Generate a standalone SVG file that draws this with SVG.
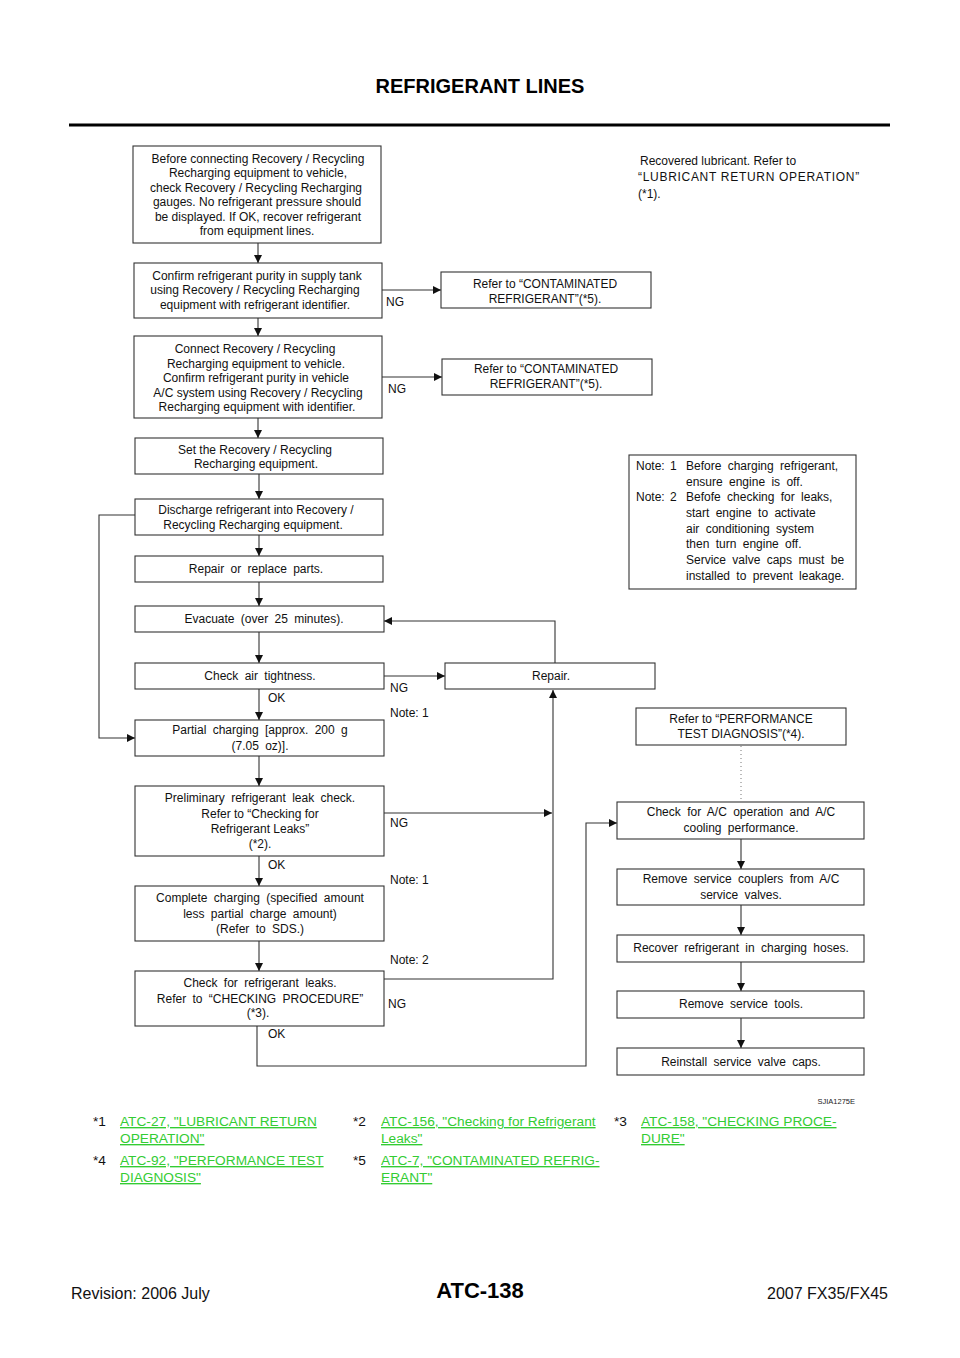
<svg xmlns="http://www.w3.org/2000/svg" width="960" height="1358" viewBox="0 0 960 1358">
<style>
  .box { fill: #fff; stroke: #333; stroke-width: 1.1; }
  .t { font-family: "Liberation Sans", Arial, sans-serif; font-size: 12px; fill: #111; text-anchor: middle; }
  .tl { font-family: "Liberation Sans", Arial, sans-serif; font-size: 12px; fill: #111; }
  .w { word-spacing: 2px; }
  .w3 { word-spacing: 3px; }
  .con { fill: none; stroke: #333; stroke-width: 1.1; }
  .dot { fill: none; stroke: #777; stroke-width: 1; stroke-dasharray: 1 3; }
  .lnk { font-family: "Liberation Sans", Arial, sans-serif; font-size: 13.7px; fill: #33cc33; text-decoration: underline; }
  .fn { font-family: "Liberation Sans", Arial, sans-serif; font-size: 13.7px; fill: #111; }
</style>
<defs>
  <marker id="ah" viewBox="0 0 10 10" refX="10" refY="5" markerWidth="8" markerHeight="8" markerUnits="userSpaceOnUse" orient="auto">
    <path d="M0,0 L10,5 L0,10 z" fill="#111"/>
  </marker>
</defs>
<rect width="960" height="1358" fill="#fff"/>

<g id="header">
  <text x="480" y="93" font-family="Liberation Sans, Arial, sans-serif" font-size="20" font-weight="bold" text-anchor="middle" fill="#000">REFRIGERANT LINES</text>
  <line x1="69" y1="125" x2="890" y2="125" stroke="#000" stroke-width="3"/>
</g>

<g id="connectors">
  <line class="con" x1="258" y1="243" x2="258" y2="263" marker-end="url(#ah)"/>
  <line class="con" x1="258" y1="318" x2="258" y2="336" marker-end="url(#ah)"/>
  <line class="con" x1="258" y1="418" x2="258" y2="438" marker-end="url(#ah)"/>
  <line class="con" x1="259" y1="474" x2="259" y2="499" marker-end="url(#ah)"/>
  <line class="con" x1="259" y1="535" x2="259" y2="556" marker-end="url(#ah)"/>
  <line class="con" x1="259" y1="582" x2="259" y2="606" marker-end="url(#ah)"/>
  <line class="con" x1="259" y1="632" x2="259" y2="663" marker-end="url(#ah)"/>
  <line class="con" x1="259" y1="689" x2="259" y2="720" marker-end="url(#ah)"/>
  <line class="con" x1="259" y1="756" x2="259" y2="786" marker-end="url(#ah)"/>
  <line class="con" x1="259" y1="856" x2="259" y2="886" marker-end="url(#ah)"/>
  <line class="con" x1="259" y1="941" x2="259" y2="971" marker-end="url(#ah)"/>
  <line class="con" x1="382" y1="290" x2="441" y2="290" marker-end="url(#ah)"/>
  <line class="con" x1="382" y1="377" x2="442" y2="377" marker-end="url(#ah)"/>
  <polyline class="con" points="135,515 99,515 99,738 135,738" marker-end="url(#ah)"/>
  <line class="con" x1="384" y1="676" x2="445" y2="676" marker-end="url(#ah)"/>
  <polyline class="con" points="555,663 555,621 384,621" marker-end="url(#ah)"/>
  <line class="con" x1="384" y1="813" x2="552" y2="813" marker-end="url(#ah)"/>
  <polyline class="con" points="384,979 553,979 553,690" marker-end="url(#ah)"/>
  <polyline class="con" points="257,1026 257,1066 586,1066 586,823 617,823" marker-end="url(#ah)"/>
  <line class="dot" x1="741" y1="746" x2="741" y2="801"/>
  <line class="con" x1="741" y1="839" x2="741" y2="869" marker-end="url(#ah)"/>
  <line class="con" x1="741" y1="905" x2="741" y2="935" marker-end="url(#ah)"/>
  <line class="con" x1="741" y1="962" x2="741" y2="991" marker-end="url(#ah)"/>
  <line class="con" x1="741" y1="1018" x2="741" y2="1048" marker-end="url(#ah)"/>
</g>

<g id="labels">
  <text class="tl" x="386" y="306">NG</text>
  <text class="tl" x="388" y="393">NG</text>
  <text class="tl" x="390" y="692">NG</text>
  <text class="tl" x="268" y="702">OK</text>
  <text class="tl" x="390" y="717">Note:  1</text>
  <text class="tl" x="390" y="827">NG</text>
  <text class="tl" x="268" y="869">OK</text>
  <text class="tl" x="390" y="884">Note:  1</text>
  <text class="tl" x="390" y="964">Note:  2</text>
  <text class="tl" x="388" y="1008">NG</text>
  <text class="tl" x="268" y="1038">OK</text>
</g>

<g id="n1">
  <rect class="box" x="133" y="146" width="248" height="97"/>
  <text class="t" x="258" y="163">Before connecting Recovery / Recycling</text>
  <text class="t" x="258" y="177">Recharging equipment to vehicle,</text>
  <text class="t" x="256" y="192">check Recovery / Recycling Recharging</text>
  <text class="t" x="257" y="206">gauges. No refrigerant pressure should</text>
  <text class="t" x="258" y="221">be displayed. If OK, recover refrigerant</text>
  <text class="t" x="257" y="235">from equipment lines.</text>
</g>
<g id="n2">
  <rect class="box" x="134" y="263" width="248" height="55"/>
  <text class="t" x="257" y="280">Confirm refrigerant purity in supply tank</text>
  <text class="t" x="255" y="294">using Recovery / Recycling Recharging</text>
  <text class="t" x="255" y="309">equipment with refrigerant identifier.</text>
</g>
<g id="n3">
  <rect class="box" x="134" y="336" width="248" height="82"/>
  <text class="t" x="255" y="353">Connect Recovery / Recycling</text>
  <text class="t" x="256" y="368">Recharging equipment to vehicle.</text>
  <text class="t" x="256" y="382">Confirm refrigerant purity in vehicle</text>
  <text class="t" x="258" y="397">A/C system using Recovery / Recycling</text>
  <text class="t" x="257" y="411">Recharging equipment with identifier.</text>
</g>
<g id="n4">
  <rect class="box" x="135" y="438" width="248" height="36"/>
  <text class="t" x="255" y="454">Set the Recovery / Recycling</text>
  <text class="t" x="256" y="468">Recharging equipment.</text>
</g>
<g id="n5">
  <rect class="box" x="135" y="499" width="248" height="36"/>
  <text class="t" x="256" y="514">Discharge refrigerant into Recovery /</text>
  <text class="t" x="253" y="529">Recycling Recharging equipment.</text>
</g>
<g id="n6">
  <rect class="box" x="135" y="556" width="248" height="26"/>
  <text class="t w3" x="256" y="573">Repair or replace parts.</text>
</g>
<g id="n7">
  <rect class="box" x="135" y="606" width="249" height="26"/>
  <text class="t w3" x="264" y="623">Evacuate (over 25 minutes).</text>
</g>
<g id="n8">
  <rect class="box" x="135" y="663" width="249" height="26"/>
  <text class="t w3" x="260" y="680">Check air tightness.</text>
</g>
<g id="n9">
  <rect class="box" x="135" y="720" width="249" height="36"/>
  <text class="t w3" x="260" y="734">Partial charging [approx. 200 g</text>
  <text class="t w3" x="260" y="750">(7.05 oz)].</text>
</g>
<g id="n10">
  <rect class="box" x="135" y="786" width="249" height="70"/>
  <text class="t w3" x="260" y="802">Preliminary refrigerant leak check.</text>
  <text class="t" x="260" y="818">Refer to “Checking for</text>
  <text class="t" x="260" y="833">Refrigerant Leaks”</text>
  <text class="t" x="260" y="848">(*2).</text>
</g>
<g id="n11">
  <rect class="box" x="135" y="886" width="249" height="55"/>
  <text class="t w3" x="260" y="902">Complete charging (specified amount</text>
  <text class="t w3" x="260" y="918">less partial charge amount)</text>
  <text class="t w3" x="260" y="933">(Refer to SDS.)</text>
</g>
<g id="n12">
  <rect class="box" x="135" y="971" width="249" height="55"/>
  <text class="t w3" x="260" y="987">Check for refrigerant leaks.</text>
  <text class="t w3" x="260" y="1003">Refer to “CHECKING PROCEDURE”</text>
  <text class="t" x="258" y="1017">(*3).</text>
</g>

<g id="contam1">
  <rect class="box" x="441" y="272" width="210" height="36"/>
  <text class="t" x="545" y="288">Refer to “CONTAMINATED</text>
  <text class="t" x="545" y="303">REFRIGERANT”(*5).</text>
</g>
<g id="contam2">
  <rect class="box" x="442" y="359" width="210" height="36"/>
  <text class="t" x="546" y="373">Refer to “CONTAMINATED</text>
  <text class="t" x="546" y="388">REFRIGERANT”(*5).</text>
</g>

<g id="lubricant">
  <text class="tl" x="640" y="165">Recovered lubricant. Refer to</text>
  <text class="tl" x="638" y="181" letter-spacing="0.7">“LUBRICANT RETURN OPERATION”</text>
  <text class="tl" x="638" y="198">(*1).</text>
</g>

<g id="notes">
  <rect class="box" x="629" y="455" width="227" height="134"/>
  <text class="tl w" x="636" y="470">Note:  1</text>
  <text class="tl w3" x="686" y="470">Before charging refrigerant,</text>
  <text class="tl w3" x="686" y="486">ensure engine is off.</text>
  <text class="tl w" x="636" y="501">Note:  2</text>
  <text class="tl w3" x="686" y="501">Befofe checking for leaks,</text>
  <text class="tl w3" x="686" y="517">start engine to activate</text>
  <text class="tl w3" x="686" y="533">air conditioning system</text>
  <text class="tl w3" x="686" y="548">then turn engine off.</text>
  <text class="tl w3" x="686" y="564">Service valve caps must be</text>
  <text class="tl w3" x="686" y="580">installed to prevent leakage.</text>
</g>

<g id="repair">
  <rect class="box" x="445" y="663" width="210" height="26"/>
  <text class="t" x="551" y="680">Repair.</text>
</g>
<g id="perf">
  <rect class="box" x="636" y="708" width="210" height="37"/>
  <text class="t" x="741" y="723">Refer to “PERFORMANCE</text>
  <text class="t" x="741" y="738">TEST DIAGNOSIS”(*4).</text>
</g>
<g id="r1">
  <rect class="box" x="617" y="802" width="247" height="37"/>
  <text class="t w3" x="741" y="816">Check for A/C operation and A/C</text>
  <text class="t w3" x="741" y="832">cooling performance.</text>
</g>
<g id="r2">
  <rect class="box" x="617" y="869" width="247" height="36"/>
  <text class="t w3" x="741" y="883">Remove service couplers from A/C</text>
  <text class="t w3" x="741" y="899">service valves.</text>
</g>
<g id="r3">
  <rect class="box" x="617" y="935" width="247" height="27"/>
  <text class="t w3" x="741" y="952">Recover refrigerant in charging hoses.</text>
</g>
<g id="r4">
  <rect class="box" x="617" y="991" width="247" height="27"/>
  <text class="t w3" x="741" y="1008">Remove service tools.</text>
</g>
<g id="r5">
  <rect class="box" x="617" y="1048" width="247" height="27"/>
  <text class="t w3" x="741" y="1066">Reinstall service valve caps.</text>
</g>

<text x="855" y="1104" font-family="Liberation Sans, Arial, sans-serif" font-size="7.5" text-anchor="end" fill="#222">SJIA1275E</text>

<g id="footnotes">
  <text class="fn" x="93" y="1126">*1</text>
  <text class="lnk" x="120" y="1126">ATC-27, "LUBRICANT RETURN </text>
  <text class="lnk" x="120" y="1143">OPERATION"</text>
  <text class="fn" x="353" y="1126">*2</text>
  <text class="lnk" x="381" y="1126">ATC-156, "Checking for Refrigerant </text>
  <text class="lnk" x="381" y="1143">Leaks"</text>
  <text class="fn" x="614" y="1126">*3</text>
  <text class="lnk" x="641" y="1126">ATC-158, "CHECKING PROCE-</text>
  <text class="lnk" x="641" y="1143">DURE"</text>
  <text class="fn" x="93" y="1165">*4</text>
  <text class="lnk" x="120" y="1165">ATC-92, "PERFORMANCE TEST </text>
  <text class="lnk" x="120" y="1182">DIAGNOSIS"</text>
  <text class="fn" x="353" y="1165">*5</text>
  <text class="lnk" x="381" y="1165">ATC-7, "CONTAMINATED REFRIG-</text>
  <text class="lnk" x="381" y="1182">ERANT"</text>
</g>

<g id="footer">
  <text x="71" y="1299" font-family="Liberation Sans, Arial, sans-serif" font-size="16" fill="#111">Revision: 2006 July</text>
  <text x="480" y="1298" font-family="Liberation Sans, Arial, sans-serif" font-size="22" font-weight="bold" text-anchor="middle" fill="#000">ATC-138</text>
  <text x="888" y="1299" font-family="Liberation Sans, Arial, sans-serif" font-size="16" text-anchor="end" fill="#111">2007 FX35/FX45</text>
</g>
</svg>
